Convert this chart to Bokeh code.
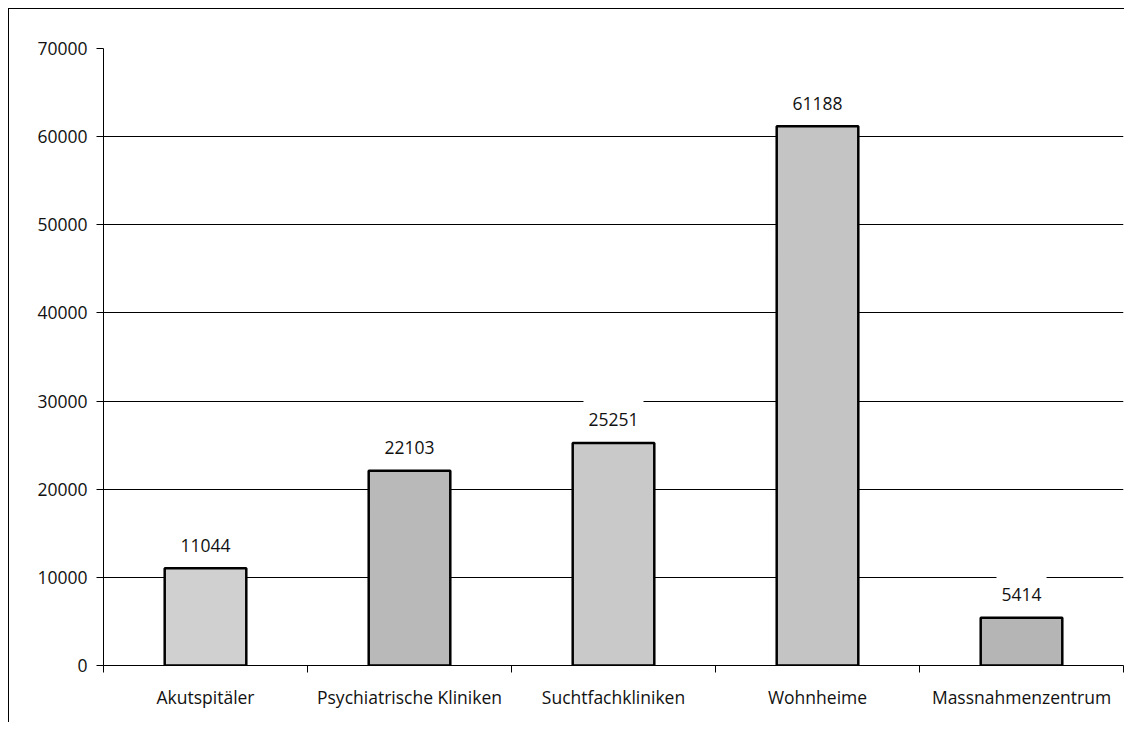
from bokeh.plotting import figure
from bokeh.models import FixedTicker, LinearAxis, Label, Range1d, NumeralTickFormatter, Grid
from bokeh.embed import file_html
from bokeh.resources import INLINE

categories = ["Akutspitäler", "Psychiatrische Kliniken", "Suchtfachkliniken", "Wohnheime", "Massnahmenzentrum"]
values = [11044, 22103, 25251, 61188, 5414]
bar_colors = ["#d0d0d0", "#b9b9b9", "#c9c9c9", "#c4c4c4", "#b5b5b5"]
y_ticks = [0, 10000, 20000, 30000, 40000, 50000, 60000, 70000]

FONT = "Open Sans"
FS = "17.5px"

xs = [i + 0.5 for i in range(len(categories))]

p = figure(width=1116, height=714, output_backend="svg", toolbar_location=None,
           x_range=Range1d(0, len(categories)), y_range=Range1d(0, 70000),
           x_axis_type=None, y_axis_type=None,
           min_border_left=94, min_border_top=39, min_border_right=2, min_border_bottom=58)
p.outline_line_color = None
p.styles = {"margin-left": "8px", "margin-top": "8px",
            "border-left": "1px solid black", "border-top": "1px solid black"}

yaxis = LinearAxis(ticker=FixedTicker(ticks=y_ticks), formatter=NumeralTickFormatter(format="0"))
yaxis.major_tick_out = 7
yaxis.major_tick_in = 0
yaxis.minor_tick_line_color = None
yaxis.axis_line_color = "black"
yaxis.major_tick_line_color = "black"
yaxis.major_label_standoff = 9
yaxis.major_label_text_font = FONT
yaxis.major_label_text_font_size = FS
yaxis.major_label_text_color = "#111111"
p.add_layout(yaxis, "left")

xaxis = LinearAxis(ticker=FixedTicker(ticks=xs, minor_ticks=list(range(len(categories) + 1))),
                   major_label_overrides={x: c for x, c in zip(xs, categories)})
xaxis.major_tick_line_color = None
xaxis.major_tick_out = 0
xaxis.major_tick_in = 0
xaxis.minor_tick_out = 7
xaxis.minor_tick_in = 0
xaxis.minor_tick_line_color = "black"
xaxis.axis_line_color = "black"
xaxis.major_label_standoff = 12
xaxis.major_label_text_font = FONT
xaxis.major_label_text_font_size = FS
xaxis.major_label_text_color = "#111111"
p.add_layout(xaxis, "below")

p.add_layout(Grid(dimension=1, ticker=yaxis.ticker, grid_line_color="black", grid_line_width=1))

p.vbar(x=xs, top=values, width=0.4, fill_color=bar_colors, line_color="black", line_width=2.5)

for x, v in zip(xs, values):
    p.add_layout(Label(x=x, y=v, text=str(v), y_offset=28, text_align="center", text_baseline="middle",
                       text_font=FONT, text_font_size=FS, text_color="#111111",
                       background_fill_color="white",
                       padding={"left": 5, "right": 5, "top": 18, "bottom": 8}))

open("out.html", "w").write(file_html(p, INLINE))
